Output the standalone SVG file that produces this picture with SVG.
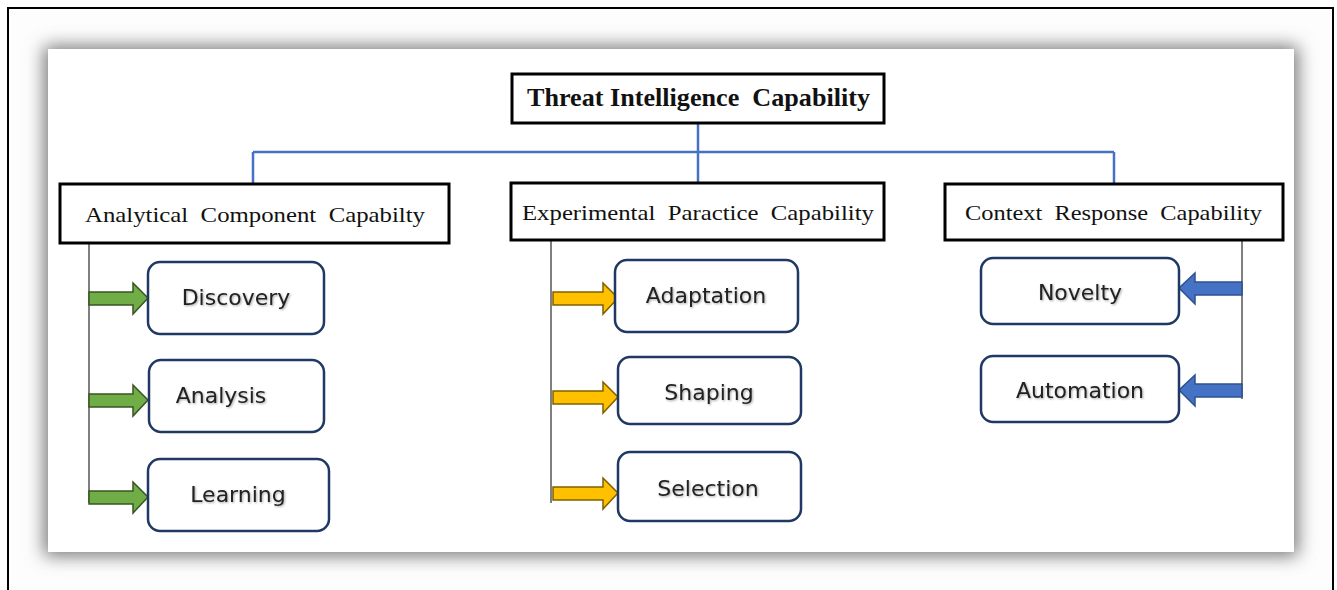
<svg xmlns="http://www.w3.org/2000/svg" width="1337" height="590" viewBox="0 0 1337 590">
<defs>
<filter id="sh" x="-10%" y="-20%" width="120%" height="140%"><feGaussianBlur stdDeviation="9"/></filter>
<filter id="ts" x="-10%" y="-30%" width="120%" height="160%"><feDropShadow dx="1" dy="1" stdDeviation="0.8" flood-color="#000" flood-opacity="0.35"/></filter>
<style>
.hdr{fill:#fff;stroke:#000;stroke-width:3}
.ht{font-family:"Liberation Serif",serif;fill:#111;white-space:pre}
.rb{fill:#fff;stroke:#1f3864;stroke-width:2.5}
.rt{font-family:"DejaVu Sans","Liberation Sans",sans-serif;font-size:22px;fill:#222;text-anchor:middle;filter:url(#ts)}
.bl{fill:none;stroke:#4472c4;stroke-width:2.5}
.gl{fill:none;stroke:#555;stroke-width:1.5}
.ga{fill:#70ad47;stroke:#375623;stroke-width:1.5}
.ya{fill:#ffc000;stroke:#7f6000;stroke-width:1.5}
.ba{fill:#4472c4;stroke:#2f528f;stroke-width:1.5}
</style>
</defs>
<rect x="0" y="0" width="1337" height="590" fill="#fff"/>
<rect x="8" y="8" width="1325" height="600" fill="#fdfdfd" stroke="#000" stroke-width="2"/>
<rect x="44" y="46" width="1254" height="510" fill="#777" filter="url(#sh)"/>
<rect x="48" y="49" width="1246" height="503" fill="#fff"/>

<g id="connectors">
<path class="bl" d="M698 123 V184 M253 152 H1114 M253 152 V184 M1114 152 V184"/>
<path class="gl" d="M89 243 V503 M551 240 V503 M1242 240 V399"/>
<path class="ga" d="M89 292 H133 V283 L148 298 L133 314 V305 H89 Z"/>
<path class="ga" d="M89 394 H133 V385 L148 400 L133 416 V407 H89 Z"/>
<path class="ga" d="M89 491 H133 V482 L148 497 L133 513 V504 H89 Z"/>
<path class="ya" d="M553 292 H603 V283 L618 298 L603 314 V305 H553 Z"/>
<path class="ya" d="M553 391 H603 V382 L618 397 L603 413 V404 H553 Z"/>
<path class="ya" d="M553 487 H603 V478 L618 493 L603 509 V500 H553 Z"/>
<path class="ba" d="M1242 282 H1195 V273 L1179 288 L1195 304 V295 H1242 Z"/>
<path class="ba" d="M1242 384 H1195 V375 L1179 390 L1195 406 V397 H1242 Z"/>
</g>

<g id="root"><rect class="hdr" x="512" y="74" width="372" height="49"/>
<text class="ht" xml:space="preserve" x="527" y="106" font-size="25" font-weight="bold" textLength="343" lengthAdjust="spacingAndGlyphs">Threat Intelligence  Capability</text></g>

<g id="analytical"><rect class="hdr" x="60" y="184" width="389" height="59"/>
<text class="ht" xml:space="preserve" x="85" y="222" font-size="22" textLength="340" lengthAdjust="spacingAndGlyphs">Analytical  Component  Capabilty</text></g>
<g id="experimental"><rect class="hdr" x="511" y="183" width="373" height="57"/>
<text class="ht" xml:space="preserve" x="522" y="220" font-size="22" textLength="352" lengthAdjust="spacingAndGlyphs">Experimental  Paractice  Capability</text></g>
<g id="context"><rect class="hdr" x="945" y="184" width="338" height="56"/>
<text class="ht" xml:space="preserve" x="965" y="220" font-size="22" textLength="297" lengthAdjust="spacingAndGlyphs">Context  Response  Capability</text></g>

<g id="discovery"><rect class="rb" x="148" y="262" width="176" height="72" rx="12"/><text class="rt" x="236" y="305">Discovery</text></g>
<g id="analysis"><rect class="rb" x="149" y="360" width="175" height="72" rx="12"/><text class="rt" x="221" y="403">Analysis</text></g>
<g id="learning"><rect class="rb" x="148" y="459" width="181" height="72" rx="12"/><text class="rt" x="238" y="502">Learning</text></g>

<g id="adaptation"><rect class="rb" x="615" y="260" width="183" height="72" rx="12"/><text class="rt" x="706" y="303">Adaptation</text></g>
<g id="shaping"><rect class="rb" x="618" y="357" width="183" height="67" rx="12"/><text class="rt" x="709" y="400">Shaping</text></g>
<g id="selection"><rect class="rb" x="618" y="452" width="183" height="69" rx="12"/><text class="rt" x="708" y="496">Selection</text></g>

<g id="novelty"><rect class="rb" x="981" y="258" width="198" height="66" rx="12"/><text class="rt" x="1080" y="300">Novelty</text></g>
<g id="automation"><rect class="rb" x="981" y="356" width="198" height="66" rx="12"/><text class="rt" x="1080" y="398">Automation</text></g>
</svg>
